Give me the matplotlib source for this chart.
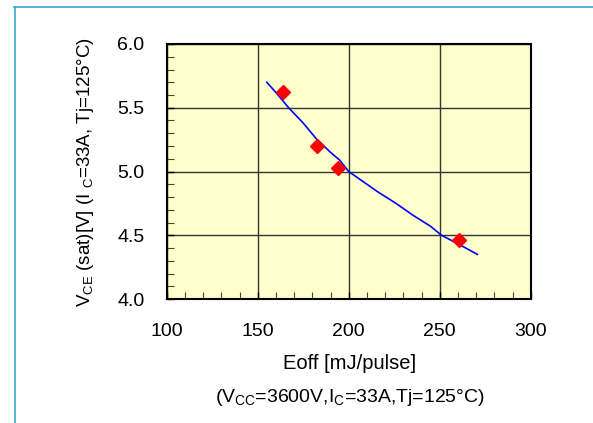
import matplotlib
matplotlib.use("Agg")
import matplotlib.pyplot as plt
from matplotlib.ticker import MultipleLocator
from matplotlib.lines import Line2D

plt.rcParams['font.family'] = ['Liberation Sans', 'DejaVu Sans']
plt.rcParams['mathtext.fontset'] = 'custom'
plt.rcParams['mathtext.rm'] = 'Liberation Sans'
plt.rcParams['mathtext.it'] = 'Liberation Sans'

# measured points
eoff_pts = [164, 182.4, 194, 260.6]
vce_pts = [5.62, 5.20, 5.03, 4.46]

# fitted curve
eoff_curve = [155, 160, 167, 175, 182, 190, 195, 200, 208, 216, 226, 235, 245, 251, 263, 270.7]
vce_curve = [5.70, 5.62, 5.50, 5.38, 5.26, 5.15, 5.09, 5.00, 4.92, 4.84, 4.75, 4.66, 4.57, 4.50, 4.41, 4.35]

xticks = [100, 150, 200, 250, 300]
yticks = [4.0, 4.5, 5.0, 5.5, 6.0]

W, H = 593, 423
fig = plt.figure(figsize=(W/100, H/100), dpi=100)
ax = fig.add_axes([166.7/W, 1-299/H, (530.7-166.7)/W, (299-44)/H])
ax.set_facecolor('#ffffcc')

ax.plot(eoff_curve, vce_curve, color='#0000ff', lw=1.2, zorder=3)
ax.plot(eoff_pts, vce_pts, 'D', color='#ff0000', ms=7.5, mec='#ff0000', zorder=4)

ax.set_xlim(100, 300)
ax.set_ylim(4.0, 6.0)
ax.set_xticks(xticks)
ax.set_xticklabels([str(t) for t in xticks])
ax.set_yticks(yticks)
ax.set_yticklabels([f"{t:.1f}" for t in yticks])
ax.xaxis.set_minor_locator(MultipleLocator(10))
ax.yaxis.set_minor_locator(MultipleLocator(0.1))
ax.tick_params(which='both', direction='in', top=False, right=False, labelsize=14, colors='black')
ax.tick_params(which='major', length=5, width=1)
ax.tick_params(which='minor', length=5, width=0.8, color='#444444')
ax.tick_params(axis='x', pad=17)
ax.tick_params(axis='y', pad=16)
ax.grid(True, which='major', color='#333333', lw=1)
for s in ax.spines.values():
    s.set_linewidth(1.5)
    s.set_color('black')

fig.text(86/W, 1-172/H, r'V$_{\rm CE}$ (sat)[V] (I $_{\rm C}$=33A, Tj=125°C)', rotation=90,
         ha='center', va='center', fontsize=13.5)
fig.text(350/W, 1-363/H, 'Eoff [mJ/pulse]', ha='center', va='center', fontsize=14.5)
fig.text(350/W, 1-397/H, r'(V$_{\rm CC}$=3600V,I$_{\rm C}$=33A,Tj=125°C)', ha='center', va='center', fontsize=14)

# frame lines
border = '#33aacc'
fig.add_artist(Line2D([14/W, 1], [1-7.5/H, 1-7.5/H], color=border, lw=1.2, transform=fig.transFigure))
fig.add_artist(Line2D([14.5/W, 14.5/W], [0, 1-7.5/H], color=border, lw=1.2, transform=fig.transFigure))

fig.savefig('out.png', dpi=100)
